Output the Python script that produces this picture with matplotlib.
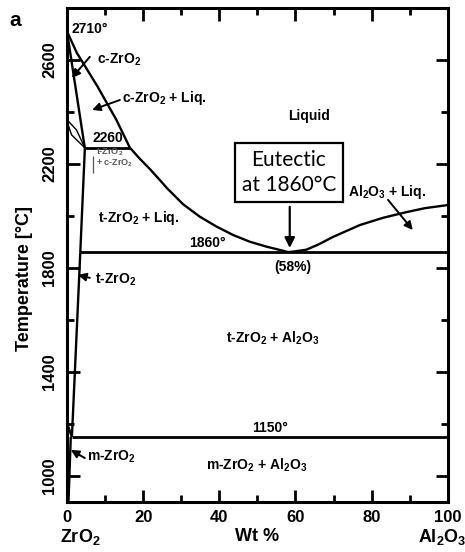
import matplotlib.pyplot as plt
from matplotlib.ticker import MultipleLocator

plt.rcParams['font.family'] = ['Liberation Sans Narrow', 'Liberation Sans', 'DejaVu Sans']
plt.rcParams['font.weight'] = 'bold'
plt.rcParams['axes.labelweight'] = 'bold'
plt.rcParams['mathtext.default'] = 'regular'

# liquidus, ZrO2-rich branch
liq_zr_x = [0, 2.6, 8.1, 13.0, 16.5, 19.0, 21.8, 24.4, 26.2, 30.5, 34.9, 39.3, 43.6, 48.0, 52.4, 56.8, 58.0]
liq_zr_t = [2710, 2627, 2496, 2369, 2263, 2222, 2180, 2138, 2108, 2045, 1997, 1959, 1927, 1901, 1882, 1866, 1861]
# liquidus, Al2O3-rich branch
liq_al_x = [58.0, 59.4, 62.8, 66.0, 69.8, 76.9, 83.0, 89.2, 94.0, 100.0]
liq_al_t = [1861, 1863, 1870, 1890, 1919, 1965, 1993, 2015, 2030, 2042]
# ZrO2-side phase boundaries
c_sol_x, c_sol_t = [0, 4.7], [2710, 2260]
ct_up_x, ct_up_t = [0, 2.5, 4.7], [2370, 2331, 2262]
ct_lo_x, ct_lo_t = [0, 1.2, 4.7], [2365, 2312, 2262]
t_sol_x, t_sol_t = [4.7, 3.5], [2260, 1860]
t_slv_x, t_slv_t = [3.5, 1.3], [1860, 1150]
m_slv_x, m_slv_t = [1.0, 0.4], [1150, 900]
tm_x, tm_t = [0, 1.3], [1204, 1150]
# invariant lines: temperature, start, end
peritectic = (2260, 4.7, 16.5)
eutectic = (1860, 3.5, 100)
eutectoid = (1150, 1.3, 100)
eut_comp = 58

fig = plt.figure(figsize=(4.65, 5.52), dpi=100)
ax = fig.add_axes([0.144, 0.0906, 0.819, 0.895])

lw = 1.7
for xs, ts in [(liq_zr_x, liq_zr_t), (liq_al_x, liq_al_t), (c_sol_x, c_sol_t),
               (t_sol_x, t_sol_t), (t_slv_x, t_slv_t), (m_slv_x, m_slv_t), (tm_x, tm_t)]:
    ax.plot(xs, ts, color='black', lw=lw, solid_capstyle='butt', solid_joinstyle='round')
ax.plot(ct_up_x, ct_up_t, color='black', lw=1.0)
ax.plot(ct_lo_x, ct_lo_t, color='black', lw=1.0)
for t, x0, x1 in [peritectic, eutectic, eutectoid]:
    ax.hlines(t, x0, x1, color='black', lw=2.0)

ax.set_xlim(0, 100)
ax.set_ylim(900, 2800)
ax.xaxis.set_major_locator(MultipleLocator(20))
ax.xaxis.set_minor_locator(MultipleLocator(10))
ax.yaxis.set_minor_locator(MultipleLocator(200))
ax.set_yticks([1000, 1400, 1800, 2200, 2600])
ax.tick_params(which='both', direction='in', top=True, right=True, width=2, labelsize=12)
ax.tick_params(which='major', length=9)
ax.tick_params(which='minor', length=5)
ax.tick_params(axis='y', labelrotation=90, pad=7)
ax.tick_params(axis='x', pad=6)
for lab in ax.get_yticklabels():
    lab.set_va('center')
for s in ax.spines.values():
    s.set_linewidth(2.2)

ax.set_ylabel('Temperature [°C]', fontsize=13)
ax.yaxis.set_label_coords(-0.088, 0.453)
ax.set_xlabel('Wt %', fontsize=13, labelpad=2)

txt = dict(fontsize=10, color='black')
ax.text(1.3, 2720, '2710°', va='center', ha='left', **txt)
ax.text(7.9, 2600, 'c-ZrO$_2$', va='center', ha='left', **txt)
ax.text(14.4, 2454, 'c-ZrO$_2$ + Liq.', va='center', ha='left', **txt)
ax.text(6.6, 2300, '2260', va='center', ha='left', **txt)
ax.text(7.6, 2268, 't-ZrO$_2$\n+ c-ZrO$_2$', va='top', ha='left', fontsize=6.5,
        color='#555555', linespacing=1.0)
ax.vlines(6.8, 2165, 2230, color='#555555', lw=0.9)
ax.text(8.1, 1992, 't-ZrO$_2$ + Liq.', va='center', ha='left', **txt)
ax.text(63.5, 2385, 'Liquid', va='center', ha='center', **txt)
ax.text(32.0, 1896, '1860°', va='center', ha='left', **txt)
ax.text(59.3, 1804, '(58%)', va='center', ha='center', **txt)
ax.text(73.8, 2092, 'Al$_2$O$_3$ + Liq.', va='center', ha='left', **txt)
ax.text(7.3, 1754, 't-ZrO$_2$', va='center', ha='left', **txt)
ax.text(54.1, 1531, 't-ZrO$_2$ + Al$_2$O$_3$', va='center', ha='center', **txt)
ax.text(53.3, 1185, '1150°', va='center', ha='center', **txt)
ax.text(49.9, 1042, 'm-ZrO$_2$ + Al$_2$O$_3$', va='center', ha='center', **txt)
ax.text(5.2, 1073, 'm-ZrO$_2$', va='center', ha='left', **txt)

arrow = dict(arrowstyle='-|>', color='black', lw=1.4, mutation_scale=12,
             shrinkA=0, shrinkB=0)
ax.annotate('', xy=(1.3, 2531), xytext=(6.0, 2612), arrowprops=arrow)
ax.annotate('', xy=(6.6, 2408), xytext=(13.9, 2446), arrowprops=arrow)
ax.annotate('', xy=(2.9, 1773), xytext=(6.0, 1762), arrowprops=arrow)
ax.annotate('', xy=(1.0, 1100), xytext=(4.7, 1069), arrowprops=arrow)
ax.annotate('', xy=(90.8, 1946), xytext=(84.3, 2062), arrowprops=arrow)

# eutectic callout
ax.text(eut_comp + 0.3, 2167, 'Eutectic\nat 1860°C', ha='center', va='center',
        fontsize=15, fontweight='normal', family='Lato', linespacing=1.3,
        bbox=dict(boxstyle='square,pad=0.35', fc='white', ec='black', lw=1.6))
ax.annotate('', xy=(eut_comp + 0.5, 1877), xytext=(eut_comp + 0.5, 2035),
            arrowprops=dict(arrowstyle='-|>', color='black', lw=1.6,
                            mutation_scale=15, shrinkA=0, shrinkB=0))

ax.text(3.6, 765, 'ZrO$_2$', ha='center', va='center', fontsize=13, clip_on=False)
ax.text(98.5, 765, 'Al$_2$O$_3$', ha='center', va='center', fontsize=13, clip_on=False)
fig.text(15 / 465, 1 - 20 / 552, 'a', fontsize=15, ha='center', va='center')

fig.savefig('out.png', dpi=100)
